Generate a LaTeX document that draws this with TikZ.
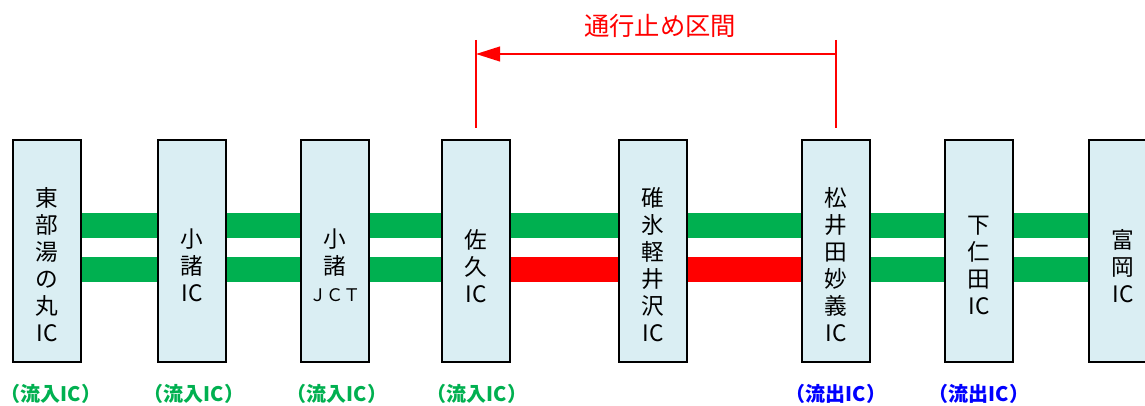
\documentclass[tikz,border=0pt]{standalone}
\usepackage{fontspec}
\setmainfont{Noto Sans CJK JP}
\usepackage{tikz}
\usetikzlibrary{arrows.meta,positioning}
\definecolor{lanegreen}{RGB}{0,176,80}
\definecolor{boxfill}{RGB}{218,238,243}

\tikzset{
    icbox/.style={draw=black,line width=1.5pt,fill=boxfill,minimum width=51pt,minimum height=166.5pt,inner sep=0pt},
    iclabel/.style={align=center,font=\fontsize{17}{20.25}\selectfont,inner sep=0pt},
    lane/.style={line width=19pt},
    inlabel/.style={text=lanegreen,inner sep=0pt,font=\fontsize{15}{18}\selectfont\bfseries},
    outlabel/.style={text=blue,inner sep=0pt,font=\fontsize{15}{18}\selectfont\bfseries}
}

\begin{document}
\begin{tikzpicture}[x=0.75pt,y=-0.75pt,>={Triangle[length=18pt,width=11pt]}]
    \useasboundingbox (0,0) rectangle (1145,406);

    % anchors of the lanes, boxes go on top
    \coordinate (l0) at (47,251);
    \coordinate (l8) at (1123,251);

    \draw[lane,lanegreen] ([yshift=19.1pt]l0) -- ([yshift=19.1pt]l8);
    \draw[lane,lanegreen] ([yshift=-13.9pt]l0) -- ([yshift=-13.9pt]l8);

    \node[icbox] (b1) at (47,251)   {};
    \node[icbox] (b2) at (192,251)  {};
    \node[icbox] (b3) at (335,251)  {};
    \node[icbox] (b4) at (476,251)  {};
    \node[icbox] (b5) at (653,251)  {};
    \node[icbox] (b6) at (836,251)  {};
    \node[icbox] (b7) at (979,251)  {};
    \node[icbox] (b8) at (1123,251) {};

    % closed lane
    \draw[lane,red] ([yshift=-13.9pt]b4.east) -- ([yshift=-13.9pt]b5.west);
    \draw[lane,red] ([yshift=-13.9pt]b5.east) -- ([yshift=-13.9pt]b6.west);

    \node[iclabel] (t1) at ([yshift=-10pt]b1.center) {東\\部\\湯\\の\\丸\\IC};
    \node[iclabel] (t2) at ([yshift=-11pt]b2.center) {小\\諸\\IC};
    \node[iclabel] (t3) at ([yshift=-11pt]b3.center) {小\\諸\\{\fontsize{13}{20.25}\selectfont ＪＣＴ}};
    \node[iclabel] (t4) at ([yshift=-11pt]b4.center) {佐\\久\\IC};
    \node[iclabel] (t5) at ([yshift=-10pt]b5.center) {碓\\氷\\軽\\井\\沢\\IC};
    \node[iclabel] (t6) at ([yshift=-10pt]b6.center) {松\\井\\田\\妙\\義\\IC};
    \node[iclabel] (t7) at ([yshift=-11pt]b7.center) {下\\仁\\田\\IC};
    \node[iclabel] (t8) at ([yshift=-11pt]b8.center) {富\\岡\\IC};

    \node[inlabel]  (f1) at (51,394)  {（流入IC）};
    \node[inlabel]  (f2) at (194,394) {（流入IC）};
    \node[inlabel]  (f3) at (337,394) {（流入IC）};
    \node[inlabel]  (f4) at (477,394) {（流入IC）};
    \node[outlabel] (f6) at (836,394) {（流出IC）};
    \node[outlabel] (f7) at (979,394) {（流出IC）};

    % closed section
    \coordinate (s1) at (476,40);
    \coordinate (s2) at (836,40);
    \draw[red,line width=1.5pt] (s1) -- (s1 |- 0,128);
    \draw[red,line width=1.5pt] (s2) -- (s2 |- 0,128);
    \draw[red,line width=1.5pt,->] (s2 |- 0,54) -- (s1 |- 0,54);
    \node[text=red,font=\fontsize{19}{22}\selectfont] (title) at (660,26) {通行止め区間};
\end{tikzpicture}
\end{document}
